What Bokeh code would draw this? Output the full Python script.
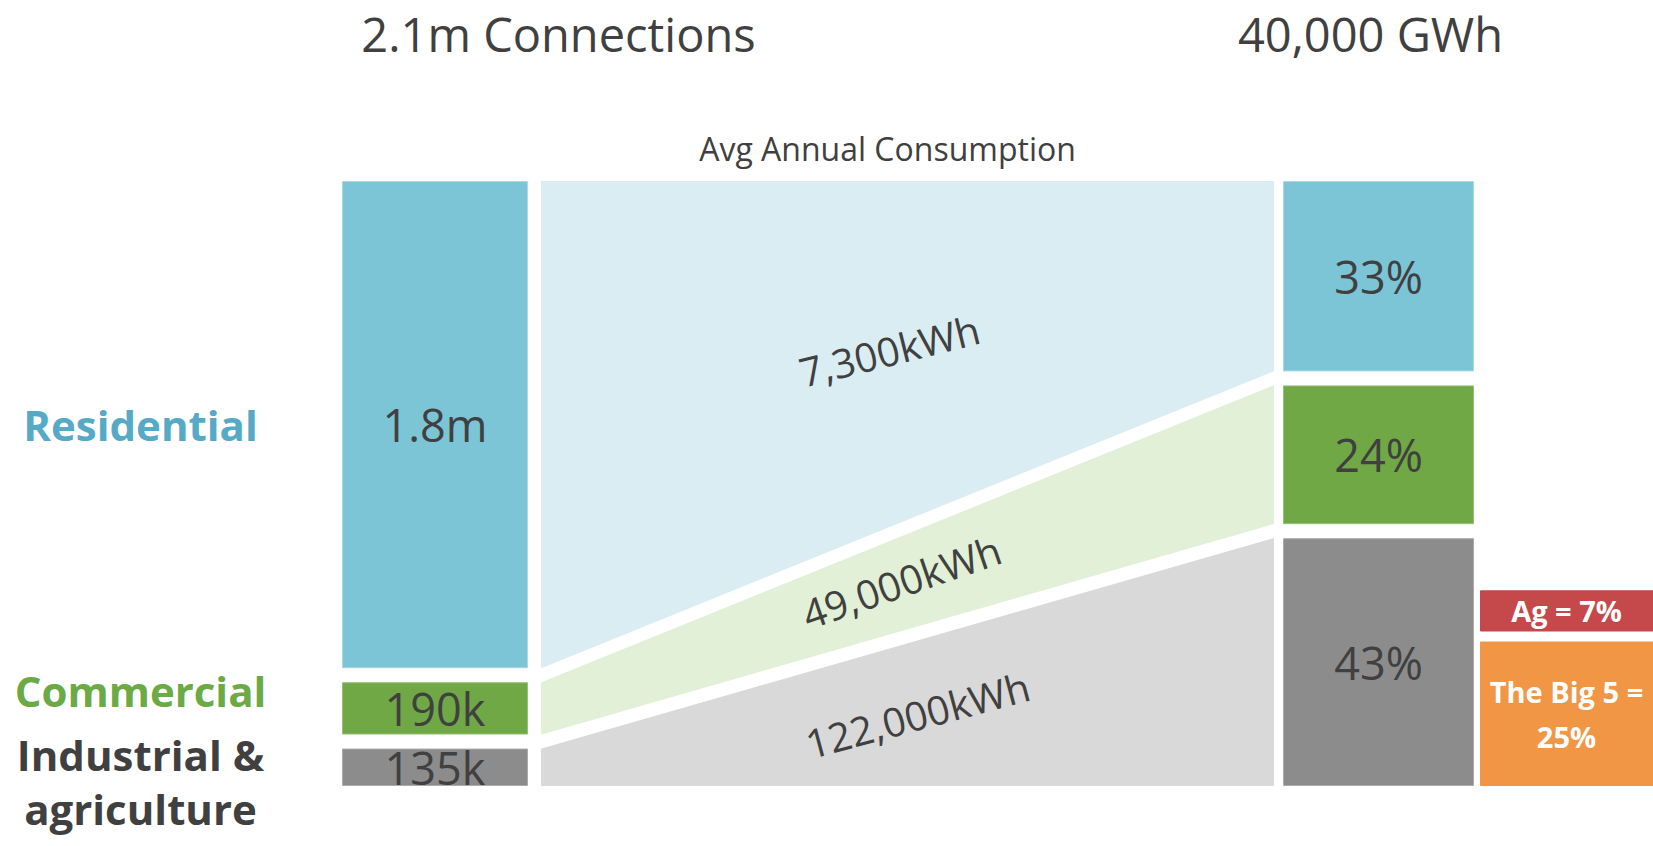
import numpy as np
from bokeh.plotting import figure
from bokeh.models import Range1d
from bokeh.core.properties import value
from bokeh.embed import file_html
from bokeh.resources import INLINE

# ---------------- data ----------------
categories = ["Residential", "Commercial", "Industrial & agriculture"]
category_lines = [["Residential"], ["Commercial"], ["Industrial &", "agriculture"]]
connections = [1_800_000, 190_000, 135_000]
connection_labels = ["1.8m", "190k", "135k"]
avg_consumption_labels = ["7,300kWh", "49,000kWh", "122,000kWh"]
energy_share = [33, 24, 43]
energy_share_labels = ["33%", "24%", "43%"]
sub_segments = [["Ag = 7%"], ["The Big 5 =", "25%"]]
sub_share = [7, 25]
total_connections_label = "2.1m Connections"
total_energy_label = "40,000 GWh"
flow_title = "Avg Annual Consumption"

# ---------------- styling / layout ----------------
W, H = 1653, 846
FONT = value("Open Sans")
DARK = "#404040"
bar_colors = ["#7BC5D6", "#70A845", "#8C8C8C"]
bar_edges = ["#A8D9E4", "#95C079", "#ABABAB"]
band_colors = ["#DAEDF3", "#E1F0D6", "#D9D9D9"]
label_colors = ["#56AAC6", "#6BAA45", "#404040"]
sub_colors = ["#C5484A", "#F09645"]

TOP, BOTTOM = 181, 785          # pixel extent of the stacked columns
GAP = 15                        # pixel gap between stacked blocks
LEFT_X = (342, 527)
BAND_X = (541, 1273)
RIGHT_X = (1283, 1473)
SIDE_X = (1480, 1720)
SIDE_GAP = 11

unit = BOTTOM - TOP - 2 * GAP   # pixels for a full column (fraction 1.0)
gap_f = GAP / unit
side_gap_f = SIDE_GAP / unit


def stack(fracs):
    fracs = np.asarray(fracs, dtype=float)
    before = np.concatenate([[0.0], np.cumsum(fracs)[:-1]])
    top = before + np.arange(len(fracs)) * gap_f
    return top, top + fracs


conn = np.asarray(connections, dtype=float)
left_top, left_bot = stack(conn / conn.sum())
share = np.asarray(energy_share, dtype=float)
right_top, right_bot = stack(share / 100.0)

# sub-segments of the industrial share, stacked up from the column bottom
sub = np.asarray(sub_share, dtype=float) / 100.0
big5_bot = right_bot[-1]
big5_top = big5_bot - sub[1]
ag_bot = big5_top - side_gap_f
ag_top = ag_bot - sub[0]
sub_top = [ag_top, big5_top]
sub_bot = [ag_bot, big5_bot]

# ---------------- figure ----------------
# main y range: column fraction, increasing downward
y0 = (H - TOP) / unit
y1 = -TOP / unit
p = figure(width=W, height=H, x_range=Range1d(0, W), y_range=Range1d(y0, y1),
           output_backend="svg", toolbar_location=None, min_border=0,
           outline_line_color=None, background_fill_color="white",
           border_fill_color="white")
p.extra_y_ranges = {"px": Range1d(H, 0)}
p.axis.visible = False
p.xgrid.visible = False
p.ygrid.visible = False

# left column: connections
p.quad(left=[LEFT_X[0]] * 3, right=[LEFT_X[1]] * 3, top=left_top, bottom=left_bot,
       fill_color=bar_colors, line_color=bar_edges, line_width=1)

# right column: energy share
p.quad(left=[RIGHT_X[0]] * 3, right=[RIGHT_X[1]] * 3, top=right_top, bottom=right_bot,
       fill_color=bar_colors, line_color=bar_edges, line_width=1)

# sub-segment boxes beside the industrial share
p.quad(left=[SIDE_X[0]] * 2, right=[SIDE_X[1]] * 2, top=sub_top, bottom=sub_bot,
       fill_color=sub_colors, line_color=sub_colors, line_width=1)

# flow bands between the columns
xs = [[BAND_X[0], BAND_X[1], BAND_X[1], BAND_X[0]] for _ in range(3)]
ys = [[left_top[i], right_top[i], right_bot[i], left_bot[i]] for i in range(3)]
p.patches(xs, ys, fill_color=band_colors, line_color=band_colors, line_width=1)

# band labels, placed mid-band
mid_x = (BAND_X[0] + BAND_X[1]) / 2
band_x = [mid_x - 18, mid_x - 6, mid_x + 10]
band_y = [(left_top[i] + right_top[i] + left_bot[i] + right_bot[i]) / 4 for i in range(3)]
band_angle = np.radians([14, 19, 15])
p.text(x=band_x, y=band_y, text=avg_consumption_labels, angle=band_angle,
       text_align="center", text_baseline="middle", text_font=FONT,
       text_font_size="40px", text_color=DARK)

# value labels inside bars
lx = (LEFT_X[0] + LEFT_X[1]) / 2
rx = (RIGHT_X[0] + RIGHT_X[1]) / 2
p.text(x=[lx] * 3, y=(left_top + left_bot) / 2, text=connection_labels,
       text_align="center", text_baseline="middle", text_font=FONT,
       text_font_size="45px", text_color=DARK)
p.text(x=[rx] * 3, y=(right_top + right_bot) / 2, text=energy_share_labels,
       text_align="center", text_baseline="middle", text_font=FONT,
       text_font_size="45px", text_color=DARK)

# sub-segment labels
sx = 1566
line_step = 45 / unit
for k, lines in enumerate(sub_segments):
    cy = (sub_top[k] + sub_bot[k]) / 2
    n = len(lines)
    ys_k = [cy + (j - (n - 1) / 2) * line_step for j in range(n)]
    p.text(x=[sx] * n, y=ys_k, text=lines, text_align="center", text_baseline="middle",
           text_font=FONT, text_font_size="29px", text_font_style="bold",
           text_color="white")

# category labels on the left (pixel positions)
cat_pos = [[424], [690], [754, 808]]
cat_x, cat_y, cat_t, cat_c = [], [], [], []
for i, lines in enumerate(category_lines):
    for j, line in enumerate(lines):
        cat_x.append(140)
        cat_y.append(cat_pos[i][j])
        cat_t.append(line)
        cat_c.append(label_colors[i])
p.text(x=cat_x, y=cat_y, text=cat_t, text_color=cat_c, text_align="center",
       text_baseline="middle", text_font=FONT, text_font_size="42px",
       text_font_style="bold", y_range_name="px")

# headings
p.text(x=[558, 1370], y=[33, 33], text=[total_connections_label, total_energy_label],
       y_range_name="px", text_align="center", text_baseline="middle",
       text_font=FONT, text_font_size="47px", text_color=DARK)
p.text(x=[887], y=[148], text=[flow_title], y_range_name="px",
       text_align="center", text_baseline="middle", text_font=FONT,
       text_font_size="32px", text_color=DARK)

open("out.html", "w").write(file_html(p, INLINE))
